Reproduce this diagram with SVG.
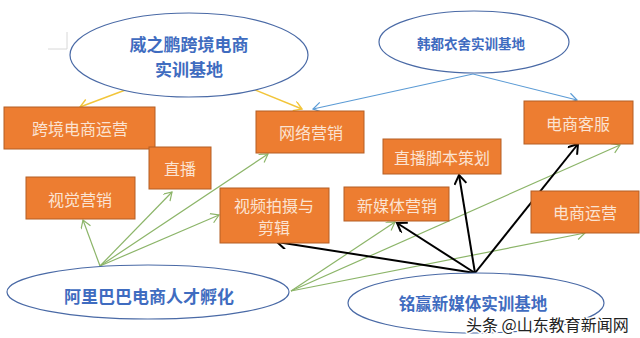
<svg xmlns="http://www.w3.org/2000/svg" width="640" height="338" viewBox="0 0 640 338">
<style>
.ell{fill:#fff;stroke:#4a6aa6;stroke-width:1.2}
.et{font-family:"Noto Sans CJK SC","Noto Sans",sans-serif;font-weight:bold;fill:#3f6cc0;text-anchor:middle;dominant-baseline:central}
.box{fill:#ed7d31;stroke:#b45f24;stroke-width:1}
.bt{font-family:"Noto Sans CJK SC","Noto Sans",sans-serif;fill:#fbe3d2;text-anchor:middle;dominant-baseline:central;font-size:16px}
.y{stroke:#f2c53a;stroke-width:1.4;fill:none;marker-end:url(#my)}
.b{stroke:#5b9bd5;stroke-width:1.2;fill:none;marker-end:url(#mb)}
.g{stroke:#8cb569;stroke-width:1.2;fill:none;marker-end:url(#mg)}
.k{stroke:#000;stroke-width:2;fill:none;marker-end:url(#mk)}
</style>
<defs>
<marker id="my" markerWidth="12" markerHeight="12" refX="9" refY="5" orient="auto" markerUnits="userSpaceOnUse"><path d="M1,0 L9,5 L1,10" fill="none" stroke="#f2c53a" stroke-width="1.4"/></marker>
<marker id="mb" markerWidth="12" markerHeight="12" refX="9" refY="5" orient="auto" markerUnits="userSpaceOnUse"><path d="M1,0 L9,5 L1,10" fill="none" stroke="#5b9bd5" stroke-width="1.2"/></marker>
<marker id="mg" markerWidth="12" markerHeight="12" refX="9" refY="5" orient="auto" markerUnits="userSpaceOnUse"><path d="M1,0 L9,5 L1,10" fill="none" stroke="#8cb569" stroke-width="1.2"/></marker>
<marker id="mk" markerWidth="14" markerHeight="14" refX="10" refY="6" orient="auto" markerUnits="userSpaceOnUse"><path d="M1,0 L10,6 L1,12" fill="none" stroke="#000" stroke-width="2"/></marker>
</defs>
<rect width="640" height="338" fill="#fff"/>
<path d="M48,49 H67 V32" fill="none" stroke="#d8d8d8" stroke-width="1"/>

<g id="connectors">
<line class="y" x1="128" y1="89" x2="80" y2="107"/>
<line class="y" x1="253" y1="89" x2="302" y2="109"/>
<line class="b" x1="473" y1="74" x2="313" y2="109"/>
<line class="b" x1="473" y1="74" x2="577" y2="100"/>
<line class="g" x1="100" y1="266" x2="83" y2="220"/>
<line class="g" x1="100" y1="266" x2="172" y2="192"/>
<line class="g" x1="100" y1="266" x2="268" y2="154"/>
<line class="g" x1="100" y1="266" x2="219" y2="215"/>
<line class="g" x1="291" y1="291" x2="395" y2="222"/>
<line class="g" x1="291" y1="291" x2="620" y2="145"/>
<line class="g" x1="291" y1="291" x2="585" y2="233"/>
<line class="k" x1="475" y1="273" x2="277" y2="242"/>
<line class="k" x1="475" y1="273" x2="397" y2="223"/>
<line class="k" x1="475" y1="273" x2="459" y2="175"/>
<line class="k" x1="475" y1="273" x2="578" y2="144"/>
</g>

<g id="n-weizhipeng"><ellipse class="ell" cx="189" cy="55" rx="119" ry="42"/><text class="et" x="189" y="43" font-size="17">威之鹏跨境电商</text><text class="et" x="189" y="68" font-size="17">实训基地</text></g>
<g id="n-handu"><ellipse class="ell" cx="474" cy="42" rx="95" ry="31"/><text class="et" x="471" y="43" font-size="13.5">韩都衣舍实训基地</text></g>
<g id="n-alibaba"><ellipse class="ell" cx="148" cy="292" rx="141" ry="27"/><text class="et" x="149" y="295" font-size="17">阿里巴巴电商人才孵化</text></g>
<g id="n-mingying"><ellipse class="ell" cx="476" cy="303" rx="128" ry="30"/><text class="et" x="473" y="303" font-size="16.5">铭赢新媒体实训基地</text></g>

<g id="b1"><rect class="box" x="4" y="107" width="151" height="42"/><text class="bt" x="80" y="128">跨境电商运营</text></g>
<g id="b2"><rect class="box" x="149" y="147" width="62" height="42"/><text class="bt" x="180" y="168">直播</text></g>
<g id="b3"><rect class="box" x="256" y="111" width="108" height="42"/><text class="bt" x="311" y="132">网络营销</text></g>
<g id="b4"><rect class="box" x="524" y="101" width="109" height="43"/><text class="bt" x="578" y="123">电商客服</text></g>
<g id="b5"><rect class="box" x="383" y="139" width="118" height="35"/><text class="bt" x="442" y="157">直播脚本策划</text></g>
<g id="b6"><rect class="box" x="26" y="177" width="109" height="42"/><text class="bt" x="80" y="199">视觉营销</text></g>
<g id="b7"><rect class="box" x="220" y="188" width="109" height="55"/><text class="bt" x="274" y="205">视频拍摄与</text><text class="bt" x="274" y="227">剪辑</text></g>
<g id="b8"><rect class="box" x="344" y="187" width="105" height="34"/><text class="bt" x="397" y="205">新媒体营销</text></g>
<g id="b9"><rect class="box" x="531" y="191" width="108" height="42"/><text class="bt" x="585" y="212">电商运营</text></g>

<text x="466" y="324" font-family="Noto Sans CJK SC,sans-serif" font-size="16" fill="#222" stroke="#fff" stroke-width="3" paint-order="stroke" dominant-baseline="central">头条 @山东教育新闻网</text>
</svg>
